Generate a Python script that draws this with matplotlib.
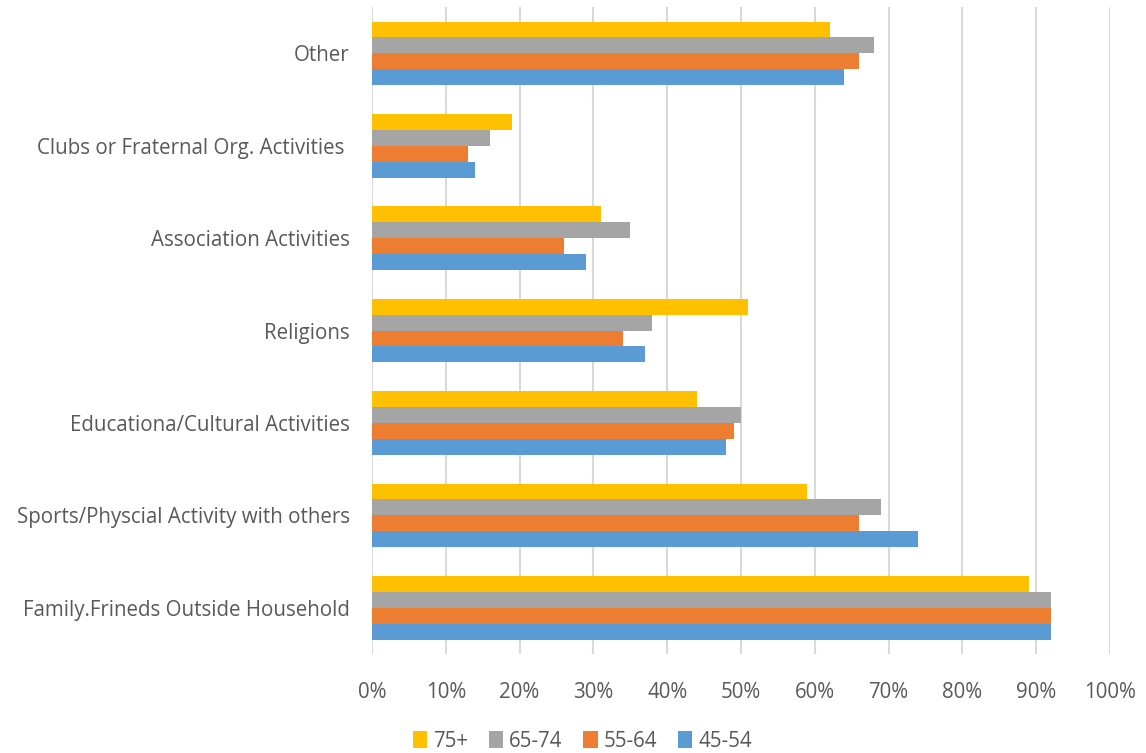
import numpy as np
import matplotlib.pyplot as plt

categories = [
    "Family.Frineds Outside Household",
    "Sports/Physcial Activity with others",
    "Educationa/Cultural Activities",
    "Religions",
    "Association Activities",
    "Clubs or Fraternal Org. Activities ",
    "Other",
]
age_groups = ["75+", "65-74", "55-64", "45-54"]
share_75 = [89, 59, 44, 51, 31, 19, 62]
share_65 = [92, 69, 50, 38, 35, 16, 68]
share_55 = [92, 66, 49, 34, 26, 13, 66]
share_45 = [92, 74, 48, 37, 29, 14, 64]
colors = ["#FFC000", "#A5A5A5", "#ED7D31", "#5B9BD5"]

series = [share_75, share_65, share_55, share_45]

plt.rcParams["font.family"] = ["Open Sans", "DejaVu Sans"]
fig = plt.figure(figsize=(11.46, 7.53), dpi=100)
ax = fig.add_axes([0.3246, 0.1315, 0.644, 0.859])

y = np.arange(len(categories))
h = 0.172
offsets = [1.5 * h, 0.5 * h, -0.5 * h, -1.5 * h]
for vals, off, col, lab in zip(series, offsets, colors, age_groups):
    ax.barh(y + off, np.array(vals) / 100, height=h, color=col, label=lab, zorder=3)

ax.set_xlim(0, 1)
ax.set_ylim(-0.5, len(categories) - 0.5)
ax.set_xticks(np.arange(0, 1.01, 0.1))
ax.set_xticklabels([f"{int(round(t * 100))}%" for t in np.arange(0, 1.01, 0.1)])
ax.set_yticks(y)
ax.set_yticklabels(categories)
ax.grid(axis="x", color="#D9D9D9", linewidth=1.5, zorder=0)
for s in ax.spines.values():
    s.set_visible(False)
ax.tick_params(axis="both", length=0, labelsize=14.8, colors="#595959")
ax.tick_params(axis="x", pad=20)
ax.tick_params(axis="y", pad=16)

ax.legend(loc="upper center", bbox_to_anchor=(0.285, -0.09), ncol=4, frameon=False,
          fontsize=14.8, handlelength=0.7, handleheight=0.9, handletextpad=0.3,
          columnspacing=1.0, labelcolor="#595959")

fig.savefig("out.png", dpi=100)
